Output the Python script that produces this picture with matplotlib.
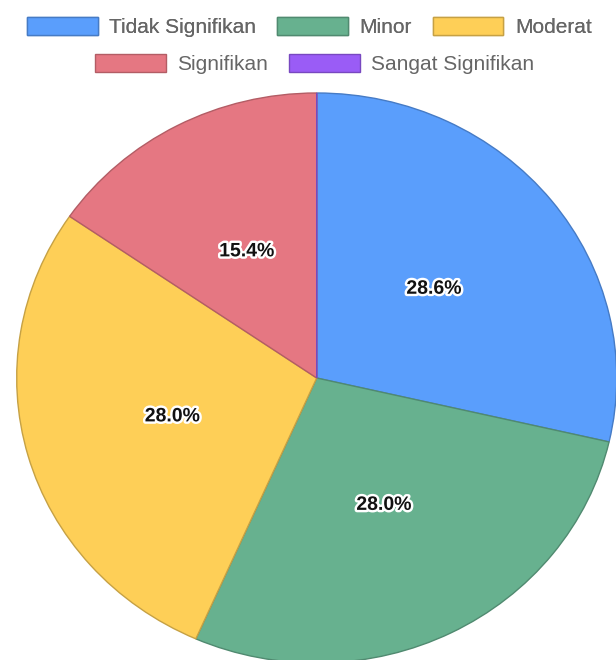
import matplotlib.pyplot as plt
import matplotlib.patheffects as pe
from matplotlib.colors import to_rgb

plt.rcParams['font.family'] = ['Liberation Sans', 'DejaVu Sans']

labels = ["Tidak Signifikan", "Minor", "Moderat", "Signifikan", "Sangat Signifikan"]
values = [28.6, 28.0, 28.0, 15.4, 0.0]
colors = ["#5a9efc", "#67b18f", "#fecf57", "#e57782", "#9a5cf6"]


def darker(c, f=0.78):
    r, g, b = to_rgb(c)
    return (r * f, g * f, b * f)


def fmt_pct(p):
    return "" if p < 0.05 else f"{p:.1f}%"


fig = plt.figure(figsize=(6.16, 6.60), dpi=100)
ax = fig.add_axes([16.7 / 616, -3 / 660, 600 / 616, 570 / 660])

wedges, _, autotexts = ax.pie(
    values, colors=colors, startangle=90, counterclock=False,
    autopct=fmt_pct, pctdistance=0.5,
    wedgeprops=dict(linewidth=1.0),
)
for w, c in zip(wedges, colors):
    w.set_edgecolor(darker(c))
    w.set_clip_on(False)

for t in autotexts:
    t.set_fontsize(14)
    t.set_fontweight("bold")
    t.set_color("#111111")
    t.set_path_effects([pe.withStroke(linewidth=3.5, foreground="white")])

ax.set_aspect("auto")
ax.set_xlim(-1, 1)
ax.set_ylim(-1, 1)
ax.axis("off")

# legend in two centred rows
leg_kw = dict(frameon=False, fontsize=15, handlelength=3.4, handleheight=1.0,
              handletextpad=0.55, columnspacing=1.0, borderpad=0, labelcolor="#666666",
              loc="center")
leg1 = fig.legend(wedges[:3], labels[:3], ncol=3,
                  bbox_to_anchor=(0.502, 1 - 27 / 660), **leg_kw)
fig.legend(wedges[3:], labels[3:], ncol=2,
           bbox_to_anchor=(0.511, 1 - 64 / 660), **leg_kw)
fig.add_artist(leg1)

fig.savefig("out.png", dpi=100)
plt.close(fig)
